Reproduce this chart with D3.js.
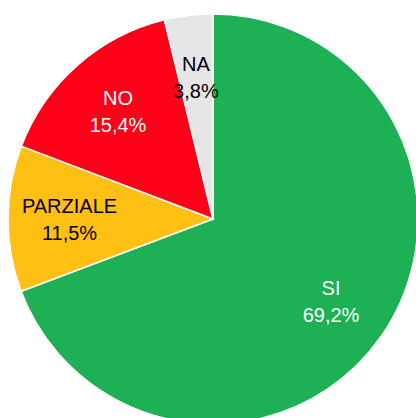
<!DOCTYPE html>
<html>
<head>
<meta charset="utf-8">
<script src="https://cdn.jsdelivr.net/npm/d3@7"></script>
<style>
  body { margin: 0; background: #fff; }
  svg { display: block; }
</style>
</head>
<body>
<svg id="pie" width="416" height="418"></svg>
<script>

let categories = ["SI", "PARZIALE", "NO", "NA"];
let values = [69.2, 11.5, 15.4, 3.8];
let labels = ["69,2%", "11,5%", "15,4%", "3,8%"];
let colors = ["#1db054", "#ffbf13", "#ff0019", "#e7e6e6"];
let textColors = ["#ffffff", "#000000", "#ffffff", "#000000"];

let svg = d3.select("svg#pie");
let width = +svg.attr("width");
let height = +svg.attr("height");
let cx = 213;
let cy = 219;
let radius = 205;

let data = categories.map(function(c, i) {
  return { name: c, value: values[i], label: labels[i], color: colors[i], text: textColors[i] };
});

let pie = d3.pie().sort(null).value(d => d.value);
let arc = d3.arc().innerRadius(0).outerRadius(radius);
let labelArc = d3.arc().innerRadius(radius * 0.7).outerRadius(radius * 0.7);

let g = svg.append("g").attr("transform", "translate(" + cx + "," + cy + ")");

let arcs = pie(data);

g.selectAll("path")
  .data(arcs)
  .enter()
  .append("path")
  .attr("d", arc)
  .attr("fill", d => d.data.color)
  .attr("stroke", "#ffffff")
  .attr("stroke-width", 1.5);

let txt = g.selectAll("text")
  .data(arcs)
  .enter()
  .append("text")
  .attr("transform", d => "translate(" + labelArc.centroid(d) + ")")
  .attr("text-anchor", "middle")
  .attr("font-family", "'Liberation Sans', Arial, sans-serif")
  .attr("font-size", 20)
  .attr("fill", d => d.data.text);

txt.append("tspan")
  .attr("x", 0)
  .attr("y", -6)
  .text(d => d.data.name);

txt.append("tspan")
  .attr("x", 0)
  .attr("y", 21)
  .text(d => d.data.label);

</script>
</body>
</html>
